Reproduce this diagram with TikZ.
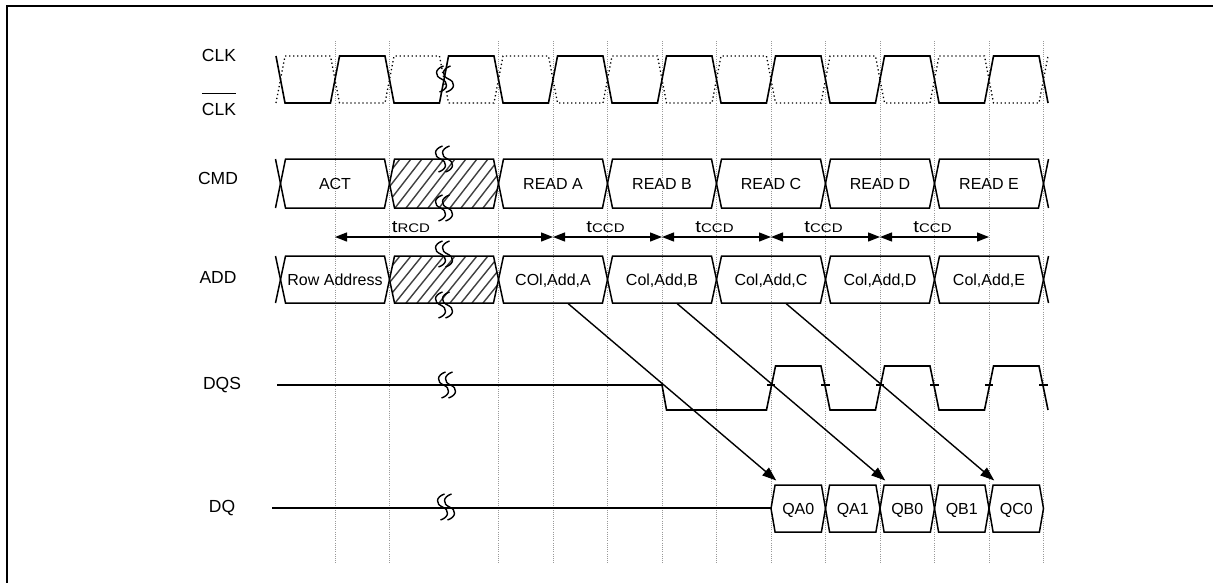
\documentclass[tikz,border=0pt]{standalone}
\usepackage{fontspec}
\setmainfont{Liberation Sans}
\usetikzlibrary{arrows.meta,calc}
\tikzset{
  wave/.style={line width=1.6pt, line join=miter},
  clkbar/.style={line width=1.3pt, dash pattern=on 1.3pt off 2.7pt},
  gridline/.style={gray!80, line width=0.6pt, dash pattern=on 0.6pt off 1.6pt},
  bus/.style={line width=1.5pt, line join=miter},
  hatchline/.style={black!75, line width=1.4pt},
  brkline/.style={line width=1.4pt},
  lbl/.style={font=\fontsize{17.5}{18}\selectfont, inner sep=0pt, text height=12.5pt, text depth=0pt},
  boxtext/.style={font=\fontsize{16}{18}\selectfont, inner sep=0pt, text height=11.5pt, text depth=0pt},
  dimlbl/.style={inner sep=0pt, anchor=base},
  dim/.style={line width=1.3pt, {Triangle[length=12pt,width=9pt]}-{Triangle[length=12pt,width=9pt]}},
  link/.style={line width=1.4pt, -{Triangle[length=14pt,width=10pt]}},
  brkS/.pic={
    \draw[brkline] (2pt,13pt) .. controls (-7pt,10pt) and (-7pt,3pt) .. (0pt,0pt)
                   .. controls (7pt,-3pt) and (7pt,-10pt) .. (-2pt,-13pt);
  },
  brkmark/.pic={
    \pic at (-3.5pt,0pt) {brkS};
    \pic at (3.5pt,0pt) {brkS};
  }
}
\newcommand\hexb[7]{%
  \draw[bus] (#2,{(#4+#5)/2}) -- (#2+#6,#4) -- (#3-#6,#4) -- (#3,{(#4+#5)/2}) -- (#3-#6,#5) -- (#2+#6,#5) -- cycle;
  \node[boxtext] (#1) at ({(#2+#3)/2},{(#4+#5)/2}) {#7};
}
\newcommand\tsub[1]{\scalebox{1.2}[1]{{\fontsize{17}{17}\selectfont t}{\fontsize{12.5}{13}\selectfont #1}}}
\begin{document}
\begin{tikzpicture}[x=1pt,y=-1pt]
\useasboundingbox (0,0) rectangle (1213,582);
% frame
\draw[line width=2pt] (7,590) -- (7,6) -- (1220,6);
% grid
\begin{scope}[xshift=335pt, x=54.5pt]
  \foreach \k in {0,1,3,4,5,6,7,8,9,10,11,12,13}
    \draw[gridline] (\k,41) -- (\k,563);
\end{scope}
% hatch areas
\begin{scope}
  \clip (389.5,183.5) -- (394.5,159) -- (493.5,159) -- (498.5,183.5) -- (493.5,208) -- (394.5,208) -- cycle;
  \foreach \x in {340,351,...,510} \draw[hatchline] (\x,208) -- (\x+38,159);
\end{scope}
\begin{scope}
  \clip (389.5,279.5) -- (394.5,256) -- (493.5,256) -- (498.5,279.5) -- (493.5,303) -- (394.5,303) -- cycle;
  \foreach \x in {340,351,...,510} \draw[hatchline] (\x,303) -- (\x+38,256);
\end{scope}
% labels
\node[lbl] (clk) at (219,55) {CLK};
\node[lbl] (clkb) at (219,109) {CLK};
\draw[line width=0.8pt] ([yshift=9pt]clkb.north west) -- ([yshift=9pt]clkb.north east);
\node[lbl] (cmd) at (218,178) {CMD};
\node[lbl] (add) at (218,277) {ADD};
\node[lbl] (dqs) at (222,383) {DQS};
\node[lbl] (dq) at (222,506) {DQ};
\coordinate (dqsstart) at (277,385);
\coordinate (dqstart) at (272,508);
% waveforms
\begin{scope}[xshift=335pt, x=54.5pt]
  \def\tc{0.083}
  \def\tw{0.092}
  \def\tq{0.075}
  % CLK
  \draw[wave] (-1-\tc,56) foreach \k in {0,2,...,12}{ -- (\k-1+\tc,103) -- (\k-\tc,103) -- (\k+\tc,56) -- (\k+1-\tc,56)} -- (13+\tc,103);
  \draw[clkbar] (-1-\tc,103) foreach \k in {0,2,...,12}{ -- (\k-1+\tc,56) -- (\k-\tc,56) -- (\k+\tc,103) -- (\k+1-\tc,103)} -- (13+\tc,56);
  % CMD
  \draw[bus] (-1-\tw,159) -- (-1,183.5) -- (-1-\tw,208);
  \draw[bus] (13+\tw,159) -- (13,183.5) -- (13+\tw,208);
  \hexb{act}{-1}{1}{159}{208}{\tw}{ACT}
  \hexb{cmdx}{1}{3}{159}{208}{\tw}{}
  \hexb{rda}{3}{5}{159}{208}{\tw}{READ A}
  \hexb{rdb}{5}{7}{159}{208}{\tw}{READ B}
  \hexb{rdc}{7}{9}{159}{208}{\tw}{READ C}
  \hexb{rdd}{9}{11}{159}{208}{\tw}{READ D}
  \hexb{rde}{11}{13}{159}{208}{\tw}{READ E}
  % ADD
  \draw[bus] (-1-\tw,256) -- (-1,279.5) -- (-1-\tw,303);
  \draw[bus] (13+\tw,256) -- (13,279.5) -- (13+\tw,303);
  \hexb{row}{-1}{1}{256}{303}{\tw}{Row Address}
  \hexb{addx}{1}{3}{256}{303}{\tw}{}
  \hexb{addA}{3}{5}{256}{303}{\tw}{COl,Add,A}
  \hexb{addB}{5}{7}{256}{303}{\tw}{Col,Add,B}
  \hexb{addC}{7}{9}{256}{303}{\tw}{Col,Add,C}
  \hexb{addD}{9}{11}{256}{303}{\tw}{Col,Add,D}
  \hexb{addE}{11}{13}{256}{303}{\tw}{Col,Add,E}
  % timing dimensions
  \foreach \k in {0,4,6,8,10,12} \coordinate (d\k) at (\k,237);
  \draw[dim] (d0) -- (d4);
  \draw[dim] (d4) -- (d6);
  \draw[dim] (d6) -- (d8);
  \draw[dim] (d8) -- (d10);
  \draw[dim] (d10) -- (d12);
  % DQS
  \draw[wave] (dqsstart) -- (6,385) -- (6+\tc,410) -- (8-\tc,410) -- (8+\tc,366) -- (9-\tc,366) -- (9+\tc,410) -- (10-\tc,410) -- (10+\tc,366) -- (11-\tc,366) -- (11+\tc,410) -- (12-\tc,410) -- (12+\tc,366) -- (13-\tc,366) -- (13+\tc,410);
  \foreach \k in {8,...,13} \draw[line width=1.2pt] (\k-0.075,385) -- (\k+0.075,385);
  % DQ
  \draw[wave] (dqstart) -- (8,508);
  \hexb{qa0}{8}{9}{485}{532}{\tq}{QA0}
  \hexb{qa1}{9}{10}{485}{532}{\tq}{QA1}
  \hexb{qb0}{10}{11}{485}{532}{\tq}{QB0}
  \hexb{qb1}{11}{12}{485}{532}{\tq}{QB1}
  \hexb{qc0}{12}{13}{485}{532}{\tq}{QC0}
\end{scope}
% dimension labels
\node[dimlbl] (lrcd) at (411,232) {\tsub{RCD}};
\node[dimlbl] (lccd1) at (605.5,232) {\tsub{CCD}};
\node[dimlbl] (lccd2) at (714.5,232) {\tsub{CCD}};
\node[dimlbl] (lccd3) at (823.5,232) {\tsub{CCD}};
\node[dimlbl] (lccd4) at (932.5,232) {\tsub{CCD}};
% latency arrows
\draw[link] ($(addA)+(15pt,-24pt)$) -- ($(qa0)+(-22pt,28pt)$);
\draw[link] ($(addB)+(15pt,-24pt)$) -- ($(qb0)+(-22pt,28pt)$);
\draw[link] ($(addC)+(15pt,-24pt)$) -- ($(qc0)+(-22pt,28pt)$);
% break marks
\pic at (445,79) {brkmark};
\pic at (444,159) {brkmark};
\pic at (444,208) {brkmark};
\pic at (444,254) {brkmark};
\pic at (444,305) {brkmark};
\pic at (447,385) {brkmark};
\pic at (446,507) {brkmark};
\end{tikzpicture}
\end{document}
